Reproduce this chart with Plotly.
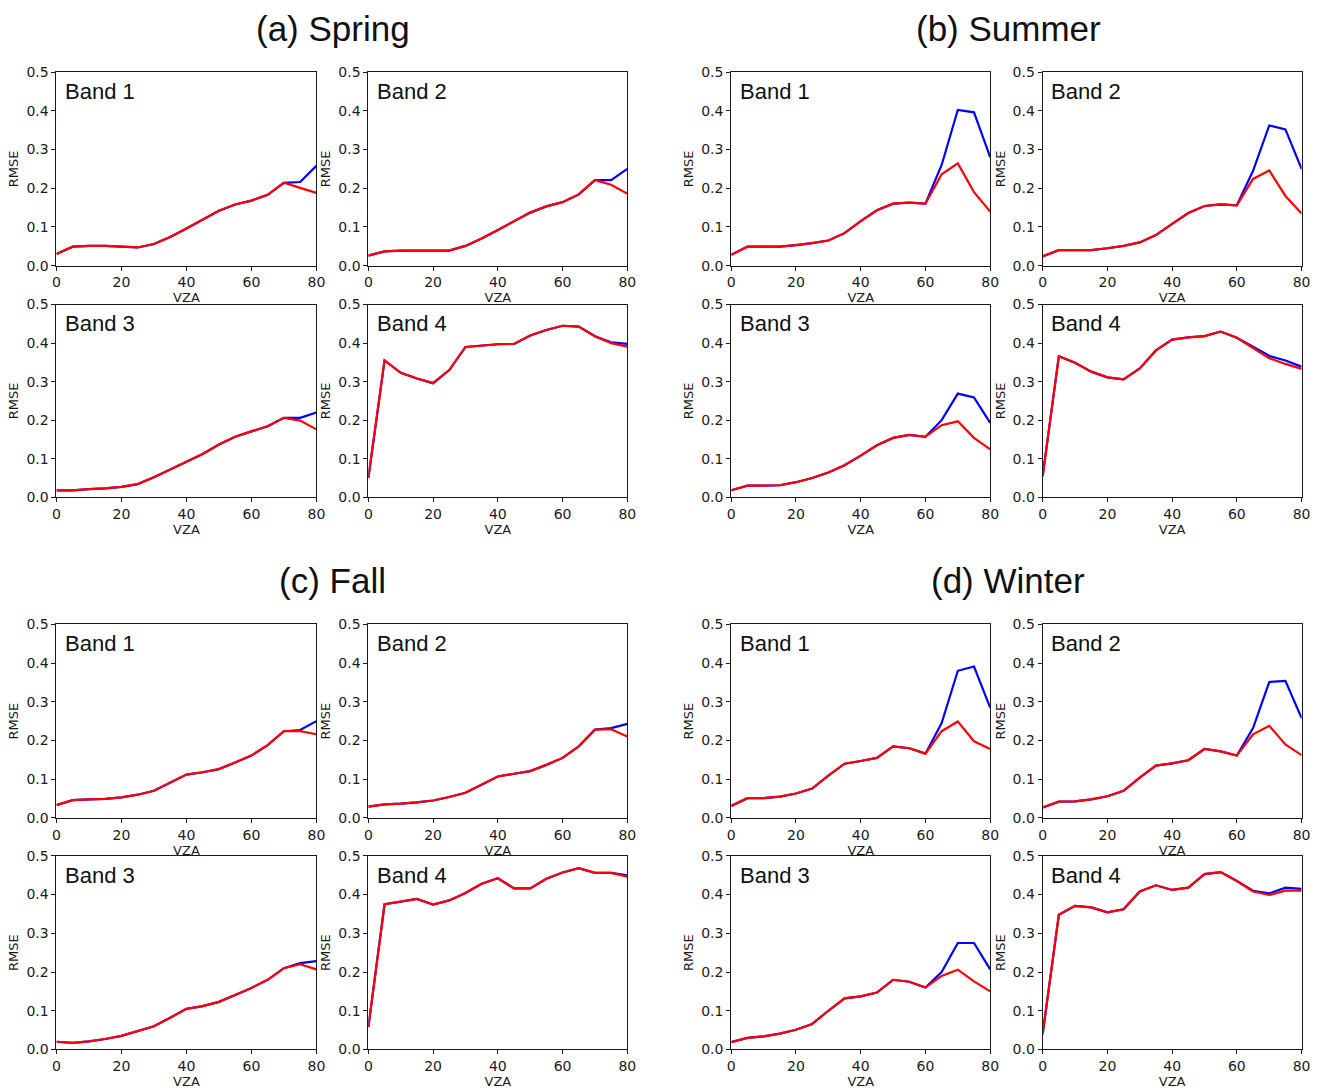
import plotly.graph_objects as go

vza = [0, 5, 10, 15, 20, 25, 30, 35, 40, 45, 50, 55, 60, 65, 70, 75, 80]

seasons = ["(a) Spring", "(b) Summer", "(c) Fall", "(d) Winter"]
bands = ["Band 1", "Band 2", "Band 3", "Band 4"]

# red series and blue series per season, per band
spring_red = [
    [0.030, 0.049, 0.051, 0.051, 0.049, 0.047, 0.056, 0.074, 0.096, 0.118, 0.142, 0.158, 0.168, 0.183, 0.214, 0.201, 0.188],
    [0.026, 0.037, 0.039, 0.039, 0.039, 0.039, 0.051, 0.070, 0.092, 0.114, 0.137, 0.153, 0.164, 0.184, 0.221, 0.209, 0.186],
    [0.018, 0.018, 0.021, 0.023, 0.027, 0.034, 0.052, 0.072, 0.092, 0.112, 0.137, 0.157, 0.171, 0.184, 0.206, 0.199, 0.176],
    [0.050, 0.355, 0.323, 0.308, 0.296, 0.330, 0.390, 0.393, 0.397, 0.398, 0.420, 0.434, 0.445, 0.443, 0.418, 0.400, 0.391],
]
spring_blue = [
    [0.030, 0.049, 0.051, 0.051, 0.049, 0.047, 0.056, 0.074, 0.096, 0.118, 0.142, 0.158, 0.168, 0.183, 0.214, 0.216, 0.258],
    [0.026, 0.037, 0.039, 0.039, 0.039, 0.039, 0.051, 0.070, 0.092, 0.114, 0.137, 0.153, 0.164, 0.184, 0.221, 0.221, 0.250],
    [0.018, 0.018, 0.021, 0.023, 0.027, 0.034, 0.052, 0.072, 0.092, 0.112, 0.137, 0.157, 0.171, 0.184, 0.206, 0.206, 0.220],
    [0.050, 0.355, 0.323, 0.308, 0.296, 0.330, 0.390, 0.393, 0.397, 0.398, 0.420, 0.434, 0.445, 0.443, 0.418, 0.402, 0.398],
]
summer_red = [
    [0.028, 0.049, 0.049, 0.049, 0.053, 0.058, 0.065, 0.084, 0.115, 0.143, 0.160, 0.163, 0.160, 0.236, 0.264, 0.190, 0.140],
    [0.024, 0.040, 0.040, 0.040, 0.045, 0.051, 0.060, 0.079, 0.108, 0.136, 0.154, 0.158, 0.156, 0.224, 0.246, 0.180, 0.135],
    [0.018, 0.030, 0.030, 0.031, 0.039, 0.050, 0.064, 0.083, 0.108, 0.135, 0.154, 0.162, 0.157, 0.187, 0.197, 0.154, 0.124],
    [0.055, 0.366, 0.349, 0.326, 0.311, 0.306, 0.334, 0.381, 0.409, 0.415, 0.418, 0.430, 0.414, 0.388, 0.361, 0.346, 0.333],
]
summer_blue = [
    [0.028, 0.049, 0.049, 0.049, 0.053, 0.058, 0.065, 0.084, 0.115, 0.143, 0.160, 0.163, 0.160, 0.260, 0.402, 0.396, 0.280],
    [0.024, 0.040, 0.040, 0.040, 0.045, 0.051, 0.060, 0.079, 0.108, 0.136, 0.154, 0.158, 0.156, 0.245, 0.362, 0.352, 0.250],
    [0.018, 0.030, 0.030, 0.031, 0.039, 0.050, 0.064, 0.083, 0.108, 0.135, 0.154, 0.162, 0.157, 0.200, 0.269, 0.259, 0.193],
    [0.055, 0.366, 0.349, 0.326, 0.311, 0.306, 0.334, 0.381, 0.409, 0.415, 0.418, 0.430, 0.414, 0.390, 0.367, 0.355, 0.339],
]
fall_red = [
    [0.033, 0.046, 0.048, 0.049, 0.053, 0.060, 0.070, 0.090, 0.112, 0.118, 0.126, 0.143, 0.161, 0.188, 0.224, 0.224, 0.216],
    [0.029, 0.035, 0.037, 0.040, 0.045, 0.054, 0.065, 0.085, 0.107, 0.114, 0.121, 0.137, 0.155, 0.185, 0.228, 0.229, 0.210],
    [0.020, 0.017, 0.021, 0.027, 0.035, 0.047, 0.060, 0.082, 0.105, 0.112, 0.123, 0.141, 0.159, 0.180, 0.210, 0.220, 0.207],
    [0.058, 0.375, 0.382, 0.389, 0.374, 0.385, 0.404, 0.428, 0.442, 0.416, 0.416, 0.441, 0.457, 0.468, 0.456, 0.456, 0.446],
]
fall_blue = [
    [0.033, 0.046, 0.048, 0.049, 0.053, 0.060, 0.070, 0.090, 0.112, 0.118, 0.126, 0.143, 0.161, 0.188, 0.224, 0.227, 0.250],
    [0.029, 0.035, 0.037, 0.040, 0.045, 0.054, 0.065, 0.085, 0.107, 0.114, 0.121, 0.137, 0.155, 0.185, 0.228, 0.232, 0.243],
    [0.020, 0.017, 0.021, 0.027, 0.035, 0.047, 0.060, 0.082, 0.105, 0.112, 0.123, 0.141, 0.159, 0.180, 0.210, 0.223, 0.228],
    [0.058, 0.375, 0.382, 0.389, 0.374, 0.385, 0.404, 0.428, 0.442, 0.416, 0.416, 0.441, 0.457, 0.468, 0.456, 0.456, 0.450],
]
winter_red = [
    [0.031, 0.051, 0.051, 0.055, 0.063, 0.076, 0.109, 0.140, 0.147, 0.155, 0.185, 0.180, 0.166, 0.224, 0.249, 0.198, 0.178],
    [0.027, 0.042, 0.043, 0.048, 0.056, 0.070, 0.104, 0.135, 0.141, 0.149, 0.178, 0.172, 0.161, 0.216, 0.238, 0.190, 0.162],
    [0.019, 0.030, 0.034, 0.041, 0.051, 0.066, 0.100, 0.132, 0.137, 0.147, 0.180, 0.175, 0.160, 0.190, 0.206, 0.176, 0.150],
    [0.040, 0.348, 0.371, 0.367, 0.354, 0.362, 0.408, 0.424, 0.412, 0.418, 0.453, 0.458, 0.435, 0.408, 0.399, 0.410, 0.410],
]
winter_blue = [
    [0.031, 0.051, 0.051, 0.055, 0.063, 0.076, 0.109, 0.140, 0.147, 0.155, 0.185, 0.180, 0.166, 0.245, 0.380, 0.391, 0.285],
    [0.027, 0.042, 0.043, 0.048, 0.056, 0.070, 0.104, 0.135, 0.141, 0.149, 0.178, 0.172, 0.161, 0.232, 0.351, 0.354, 0.258],
    [0.019, 0.030, 0.034, 0.041, 0.051, 0.066, 0.100, 0.132, 0.137, 0.147, 0.180, 0.175, 0.160, 0.200, 0.275, 0.275, 0.207],
    [0.040, 0.348, 0.371, 0.367, 0.354, 0.362, 0.408, 0.424, 0.412, 0.418, 0.453, 0.458, 0.435, 0.410, 0.403, 0.418, 0.415],
]

x_ticks = [0, 20, 40, 60, 80]
y_ticks = [0.0, 0.1, 0.2, 0.3, 0.4, 0.5]

W, H = 1320, 1090
# pixel extents of the plot columns / rows (figure pixels)
col_px = [(53, 315.5), (368, 629.5), (734.5, 996), (1049, 1310.5)]
row_px = [(65, 261.5), (301, 496.5), (625.5, 822), (860.5, 1057)]

reds = [spring_red, summer_red, fall_red, winter_red]
blues = [spring_blue, summer_blue, fall_blue, winter_blue]

fig = go.Figure()
layout = {}
annotations = []
ink = "#1a1a1a"
tick_font = dict(family="DejaVu Sans", size=14, color=ink)
title_font = dict(family="DejaVu Sans", size=13, color=ink)
ax_idx = 0
for s in range(4):
    srow = s // 2
    scol = s % 2
    for b in range(4):
        r = srow * 2 + b // 2
        c = scol * 2 + b % 2
        ax_idx += 1
        sfx = "" if ax_idx == 1 else str(ax_idx)
        xa, ya = "x" + sfx, "y" + sfx
        x0, x1 = col_px[c]
        y0, y1 = row_px[r]
        layout["xaxis" + sfx] = dict(
            domain=[x0 / W, x1 / W], anchor=ya, range=[0, 80],
            tickvals=x_ticks, ticks="outside", ticklen=4, tickcolor=ink,
            showline=True, linecolor=ink, linewidth=1, mirror=True,
            showgrid=False, zeroline=False, tickfont=tick_font,
            title=dict(text="VZA", font=title_font, standoff=1),
        )
        layout["yaxis" + sfx] = dict(
            domain=[1 - y1 / H, 1 - y0 / H], anchor=xa, range=[0, 0.5],
            tickvals=y_ticks, tickformat=".1f", ticks="outside", ticklen=4, tickcolor=ink,
            showline=True, linecolor=ink, linewidth=1, mirror=True,
            showgrid=False, zeroline=False, tickfont=tick_font,
            title=dict(text="RMSE", font=title_font, standoff=4),
        )
        fig.add_trace(go.Scatter(x=vza, y=blues[s][b], mode="lines", line=dict(color="#0000ff", width=2.2),
                                 xaxis=xa, yaxis=ya, showlegend=False))
        fig.add_trace(go.Scatter(x=vza, y=reds[s][b], mode="lines", line=dict(color="#ff0000", width=2.2),
                                 xaxis=xa, yaxis=ya, showlegend=False))
        annotations.append(dict(text=bands[b], xref=xa + " domain", yref=ya + " domain",
                                x=0.025, y=0.9, xanchor="left", yanchor="middle", showarrow=False,
                                font=dict(family="Liberation Sans", size=22, color="#111")))

title_pos = [(332, 21), (1014, 21), (332, 581), (1014, 581)]
for s in range(4):
    px, py = title_pos[s]
    annotations.append(dict(text=seasons[s], xref="paper", yref="paper", x=px / W, y=1 - py / H,
                            xanchor="center", yanchor="middle", showarrow=False,
                            font=dict(family="Liberation Sans", size=35, color="#111")))

fig.update_layout(width=W, height=H, margin=dict(l=0, r=0, t=0, b=0),
                  paper_bgcolor="white", plot_bgcolor="white", annotations=annotations, **layout)
fig.write_html("out.html")
